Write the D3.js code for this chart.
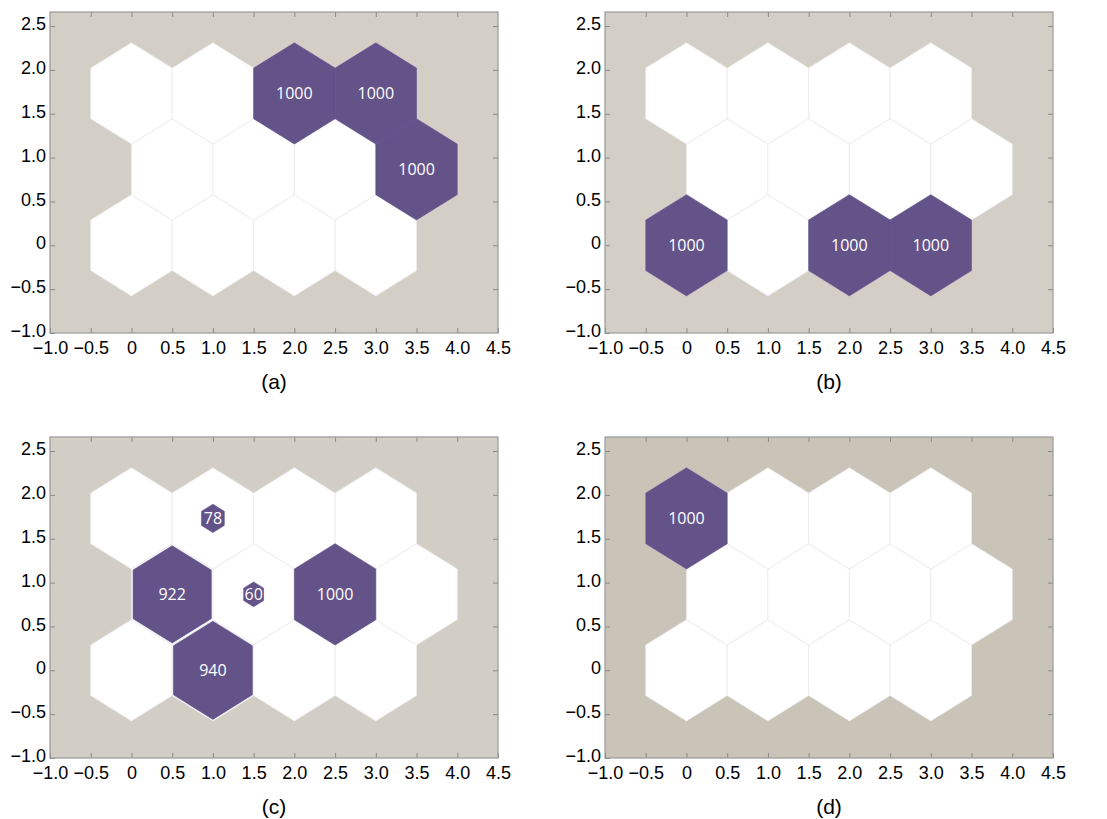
<!DOCTYPE html>
<html>
<head>
<meta charset="utf-8">
<script src="https://cdn.jsdelivr.net/npm/d3@7"></script>
<style>
  body { margin: 0; background: #fff; }
  svg { display: block; }
</style>
</head>
<body>
<div id="chart"></div>
<script>
// neuron grid: 3 rows x 4 columns, odd rows shifted by half a unit
var gridRows = [0, 0, 0, 0, 1, 1, 1, 1, 2, 2, 2, 2];
var gridCols = [0, 1, 2, 3, 0, 1, 2, 3, 0, 1, 2, 3];

// hits per neuron for each panel
var hitsA = [0, 0, 0, 0, 0, 0, 0, 1000, 0, 0, 1000, 1000];
var hitsB = [1000, 0, 1000, 1000, 0, 0, 0, 0, 0, 0, 0, 0];
var hitsC = [0, 940, 0, 0, 922, 60, 1000, 0, 0, 78, 0, 0];
var hitsD = [0, 0, 0, 0, 0, 0, 0, 0, 1000, 0, 0, 0];

var panelLabels = ["(a)", "(b)", "(c)", "(d)"];
var xTicks = [-1, -0.5, 0, 0.5, 1, 1.5, 2, 2.5, 3, 3.5, 4, 4.5];
var yTicks = [-1, -0.5, 0, 0.5, 1, 1.5, 2, 2.5];
var xDomain = [-1, 4.5];
var yDomain = [-1, 2.66];

function init() {
  var W = 1107, H = 819;
  var pw = 448, ph = 321;
  var origins = [[50, 12], [605, 12], [50, 437], [605, 437]];
  var bgColors = ["#d4cfc6", "#d4cfc6", "#d2cec5", "#c9c4b7"];
  var allHits = [hitsA, hitsB, hitsC, hitsD];
  var purple = "#645389";

  var svg = d3.select("#chart").append("svg")
    .attr("width", W).attr("height", H);

  var xScale = d3.scaleLinear().domain(xDomain).range([0, pw]);
  var yScale = d3.scaleLinear().domain(yDomain).range([ph, 0]);

  var R = 1 / Math.sqrt(3);
  var fmt = function(d) {
    if (d === 0) return "0";
    return d3.format(".1f")(d).replace("-", "\u2212");
  };

  function hexPath(cx, cy, r) {
    var pts = d3.range(6).map(function(k) {
      var a = Math.PI / 6 + k * Math.PI / 3;
      return [xScale(cx + r * Math.cos(a)), yScale(cy + r * Math.sin(a))];
    });
    return "M" + pts.join("L") + "Z";
  }

  var neurons = gridRows.map(function(r, i) {
    return { x: gridCols[i] + (r % 2) * 0.5, y: r * Math.sqrt(3) / 2 };
  });

  allHits.forEach(function(hits, p) {
    var g = svg.append("g")
      .attr("transform", "translate(" + origins[p][0] + "," + origins[p][1] + ")");

    g.append("rect")
      .attr("width", pw).attr("height", ph)
      .attr("fill", bgColors[p]);

    // white neuron cells
    g.selectAll("path.cell")
      .data(neurons)
      .enter().append("path")
      .attr("class", "cell")
      .attr("d", function(d) { return hexPath(d.x, d.y, R); })
      .attr("fill", "#fff")
      .attr("stroke", "#ebebeb")
      .attr("stroke-width", 0.8);

    var maxHits = d3.max(hits);
    var hitData = neurons.map(function(d, i) {
      return { x: d.x, y: d.y, h: hits[i] };
    }).filter(function(d) { return d.h > 0; });

    // hit hexagons sized by sqrt(hits / max)
    g.selectAll("path.hit")
      .data(hitData)
      .enter().append("path")
      .attr("class", "hit")
      .attr("d", function(d) { return hexPath(d.x, d.y, R * Math.sqrt(d.h / maxHits)); })
      .attr("fill", purple)
      .attr("stroke", "#5d4f8a")
      .attr("stroke-width", 0.6);

    g.selectAll("text.hit")
      .data(hitData)
      .enter().append("text")
      .attr("class", "hit")
      .attr("x", function(d) { return xScale(d.x); })
      .attr("y", function(d) { return yScale(d.y); })
      .attr("dy", "0.35em")
      .attr("text-anchor", "middle")
      .attr("fill", "#fff")
      .style("font-family", "'Open Sans', sans-serif")
      .style("font-size", "16px")
      .text(function(d) { return d.h; });

    // axes, ticks pointing inward on all sides
    var axisStyle = function(sel) {
      sel.select(".domain").remove();
      sel.selectAll(".tick line").attr("stroke", "#8a8a8a");
      sel.selectAll(".tick text")
        .attr("fill", "#000")
        .style("font-family", "'Liberation Sans', Arial, sans-serif")
        .style("font-size", "18px");
    };

    g.append("g").attr("transform", "translate(0," + ph + ")")
      .call(d3.axisBottom(xScale).tickValues(xTicks).tickFormat(fmt)
        .tickSizeInner(-5).tickSizeOuter(0).tickPadding(8))
      .call(axisStyle);
    g.append("g")
      .call(d3.axisTop(xScale).tickValues(xTicks.slice(1, -1)).tickFormat("")
        .tickSizeInner(-5).tickSizeOuter(0))
      .call(axisStyle);
    g.append("g")
      .call(d3.axisLeft(yScale).tickValues(yTicks).tickFormat(fmt)
        .tickSizeInner(-5).tickSizeOuter(0).tickPadding(4))
      .call(axisStyle)
      .selectAll(".tick text").attr("dy", "0.2em");
    g.append("g").attr("transform", "translate(" + pw + ",0)")
      .call(d3.axisRight(yScale).tickValues(yTicks.slice(1)).tickFormat("")
        .tickSizeInner(-5).tickSizeOuter(0))
      .call(axisStyle);

    g.append("rect")
      .attr("width", pw).attr("height", ph)
      .attr("fill", "none")
      .attr("stroke", "#999")
      .attr("stroke-width", 1.2);

    g.append("text")
      .attr("x", pw / 2)
      .attr("y", ph + 56)
      .attr("text-anchor", "middle")
      .style("font-family", "'Liberation Sans', Arial, sans-serif")
      .style("font-size", "21px")
      .attr("fill", "#000")
      .text(panelLabels[p]);
  });
}

window.onload = init;
</script>
</body>
</html>
